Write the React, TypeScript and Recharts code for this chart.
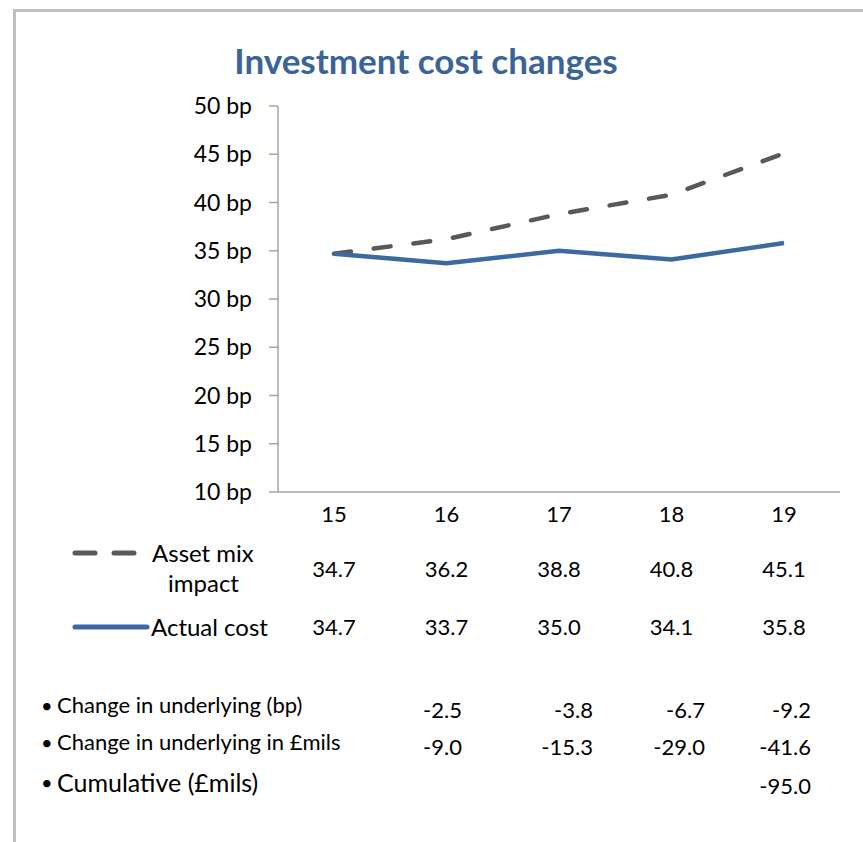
import { LineChart, Line, XAxis, YAxis } from 'recharts';

const years = ['15', '16', '17', '18', '19'];
const assetMix = [34.7, 36.2, 38.8, 40.8, 45.1];
const actualCost = [34.7, 33.7, 35.0, 34.1, 35.8];
const yTicks = [10, 15, 20, 25, 30, 35, 40, 45, 50];

// rows under the data table (first year has no change)
const changeBp = [null, -2.5, -3.8, -6.7, -9.2];
const changeMils = [null, -9.0, -15.3, -29.0, -41.6];
const cumulativeMils = [null, null, null, null, -95.0];

const data = years.map((y, i) => ({ year: y, assetMix: assetMix[i], actual: actualCost[i] }));

const FONT = 'Lato, "Open Sans", sans-serif';
const GREY = '#595959';
const BLUE = '#3D69A1';
const AXIS = '#A6A6A6';

// layout
const W = 863;
const H = 842;
const PLOT_L = 278;
const PLOT_R = 840;
const PAD = 56;
const step = (PLOT_R - PLOT_L - 2 * PAD) / (years.length - 1);
const colX = years.map((_, i) => PLOT_L + PAD + i * step);
const extraRight = [null, 462, 593, 705, 811];

const txt = (top: number, lh: number, size: number): React.CSSProperties => ({
  position: 'absolute', top: top - lh / 2, lineHeight: `${lh}px`, fontSize: size, fontFamily: FONT,
  color: '#000', whiteSpace: 'nowrap',
});

function ExtraRow({ label, values, y, vy, size }: { label: string; values: (number | null)[]; y: number; vy: number; size: number }) {
  return (
    <>
      <div style={{ ...txt(y, 28, 20), left: 41 }}>•</div>
      <div style={{ ...txt(y, 28, size), left: 57 }}>{label}</div>
      {values.map((v, i) =>
        v == null ? null : (
          <div key={i} style={{ ...txt(vy, 26, 22), left: (extraRight[i] as number) - 100, width: 100, textAlign: 'right' }}>
            {v.toFixed(1)}
          </div>
        ),
      )}
    </>
  );
}

export default function App() {
  return (
    <div style={{ position: 'absolute', left: 0, top: 0, width: W, height: H, overflow: 'hidden', background: '#fff' }}>
      <div style={{ position: 'absolute', left: 13, top: 9, width: 1000, height: 1000, borderTop: '3px solid #BFBFBF', borderLeft: '3px solid #BFBFBF' }} />
      <div style={{ ...txt(60, 42, 35), left: 0, width: 852, textAlign: 'center', fontWeight: 700, color: '#3A6398' }}>
        Investment cost changes
      </div>

      <div style={{ position: 'absolute', left: 0, top: 0 }}>
        <LineChart width={W} height={H} data={data} margin={{ top: 106, right: W - PLOT_R, bottom: 320, left: PLOT_L - 80 }}>
          <XAxis
            dataKey="year"
            height={30}
            padding={{ left: PAD, right: PAD }}
            tickLine={false}
            tickSize={0}
            tickMargin={14}
            axisLine={{ stroke: AXIS, strokeWidth: 1.5 }}
            tick={{ fontSize: 22, fontFamily: FONT, fill: '#000' }}
          />
          <YAxis
            width={80}
            domain={[10, 50]}
            ticks={yTicks}
            interval={0}
            tickSize={9}
            tickMargin={17}
            tickFormatter={(v) => `${v} bp`}
            axisLine={{ stroke: AXIS, strokeWidth: 1.5 }}
            tickLine={{ stroke: AXIS, strokeWidth: 1.5 }}
            tick={{ fontSize: 23, fontFamily: FONT, fill: '#000' }}
          />
          <Line
            dataKey="assetMix"
            stroke={GREY}
            strokeWidth={4.5}
            strokeDasharray="17 23"
            strokeLinecap="round"
            dot={false}
            isAnimationActive={false}
          />
          <Line dataKey="actual" stroke={BLUE} strokeWidth={4.5} dot={false} isAnimationActive={false} />
        </LineChart>
      </div>

      {/* data table legend keys */}
      <svg style={{ position: 'absolute', left: 0, top: 0 }} width={W} height={H} pointerEvents="none">
        <line x1={75} x2={137} y1={553} y2={553} stroke={GREY} strokeWidth={5} strokeDasharray="20 19" strokeLinecap="round" />
        <line x1={75} x2={147} y1={627} y2={627} stroke={BLUE} strokeWidth={5} strokeLinecap="round" />
      </svg>
      <div style={{ ...txt(553, 28, 24), left: 152 }}>Asset mix</div>
      <div style={{ ...txt(583, 28, 24), left: 152, width: 103, textAlign: 'center' }}>impact</div>
      <div style={{ ...txt(627, 28, 24), left: 151 }}>Actual cost</div>
      {assetMix.map((v, i) => (
        <div key={'a' + i} style={{ ...txt(569, 26, 22), left: colX[i] - 50, width: 100, textAlign: 'center' }}>{v.toFixed(1)}</div>
      ))}
      {actualCost.map((v, i) => (
        <div key={'c' + i} style={{ ...txt(627, 26, 22), left: colX[i] - 50, width: 100, textAlign: 'center' }}>{v.toFixed(1)}</div>
      ))}

      <ExtraRow label="Change in underlying (bp)" values={changeBp} y={705} vy={710} size={22} />
      <ExtraRow label="Change in underlying in £mils" values={changeMils} y={742} vy={747} size={22} />
      <ExtraRow label="Cumulative (£mils)" values={cumulativeMils} y={782} vy={786} size={25} />
    </div>
  );
}
